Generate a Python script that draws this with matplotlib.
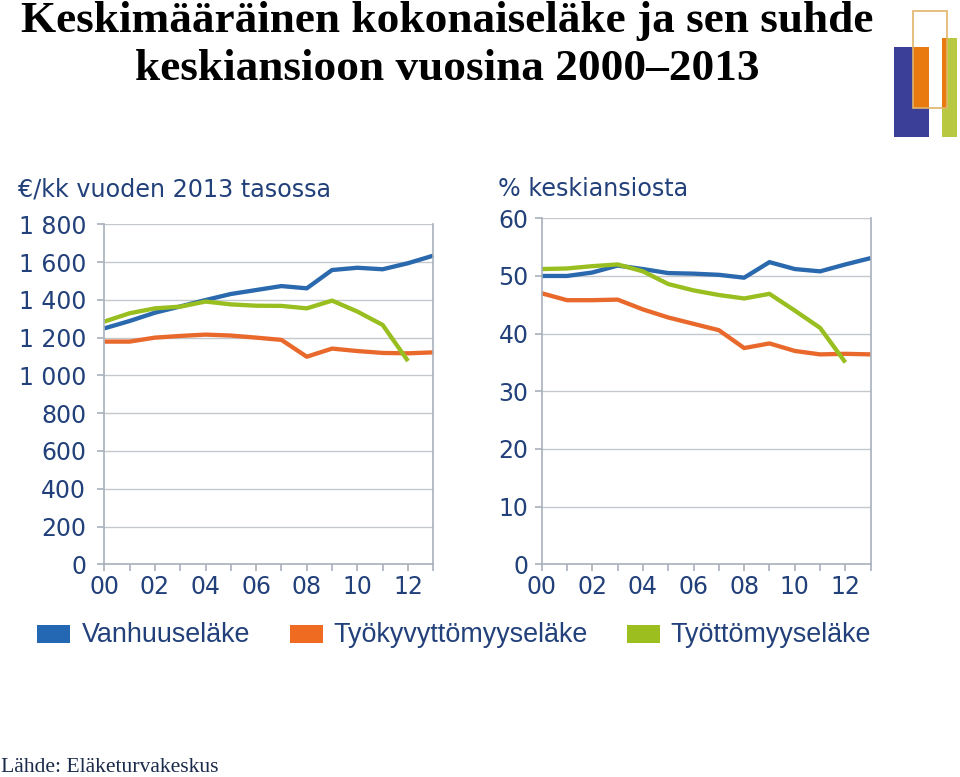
import numpy as np
import matplotlib
matplotlib.use('Agg')
import matplotlib.pyplot as plt
from matplotlib.patches import Rectangle

years = np.arange(0, 14)
year_labels = ['00', '02', '04', '06', '08', '10', '12']

# euro / month at 2013 level
eur_vanhuus = [1249, 1288, 1332, 1365, 1399, 1431, 1452, 1473, 1461, 1558, 1570, 1562, 1594, 1634]
eur_tyokyvyt = [1179, 1179, 1200, 1209, 1216, 1211, 1200, 1188, 1099, 1142, 1129, 1119, 1117, 1122]
eur_tyottomyys = [1285, 1329, 1355, 1364, 1391, 1376, 1369, 1368, 1355, 1396, 1338, 1267, 1076]

# percent of average earnings
pct_vanhuus = [50.0, 50.0, 50.6, 51.8, 51.2, 50.5, 50.4, 50.2, 49.7, 52.4, 51.2, 50.8, 52.0, 53.1]
pct_tyokyvyt = [47.0, 45.8, 45.8, 45.9, 44.2, 42.8, 41.7, 40.6, 37.5, 38.3, 37.0, 36.4, 36.5, 36.4]
pct_tyottomyys = [51.2, 51.3, 51.7, 52.0, 50.8, 48.6, 47.5, 46.7, 46.1, 46.9, 44.0, 41.0, 35.0]

series_names = ['Vanhuuseläke', 'Työkyvyttömyyseläke', 'Työttömyyseläke']
colors = ['#2a69ad', '#e8692b', '#99be1f']
navy = '#22407a'
gridc = '#c4c8cc'

W, H = 960, 777
fig = plt.figure(figsize=(W / 100, H / 100), dpi=100)


def fx(px):
    return px / W


def fy(py):
    return 1 - py / H


def setup(ax, ymax, ystep, ylabels, ypad):
    ax.set_xlim(0, 13)
    ax.set_ylim(0, ymax)
    ax.set_yticks(np.arange(0, ymax + 1, ystep))
    ax.set_yticklabels(ylabels)
    ax.set_xticks(years, minor=True)
    ax.set_xticks(np.arange(0, 13, 2))
    ax.set_xticklabels(year_labels)
    ax.yaxis.grid(True, color=gridc, lw=1.0)
    ax.set_axisbelow(True)
    for s in ['left', 'bottom', 'right']:
        ax.spines[s].set_color('#a8b0bc')
        ax.spines[s].set_linewidth(1.2)
    ax.spines['top'].set_visible(False)
    ax.tick_params(axis='both', which='both', colors='#a8b0bc', length=5, width=1.2,
                   labelcolor=navy, labelsize=17)
    ax.tick_params(axis='y', pad=ypad)
    ax.tick_params(axis='x', pad=3)


ax1 = fig.add_axes([fx(104.3), fy(564.3), fx(433.3 - 104.3), (564.3 - 224.3) / H])
for vals, c in zip([eur_vanhuus, eur_tyokyvyt, eur_tyottomyys], colors):
    ax1.plot(years[:len(vals)], vals, color=c, lw=3.1, solid_capstyle='butt', clip_on=False)
setup(ax1, 1800, 200, ['0', '200', '400', '600', '800', '1 000', '1 200', '1 400', '1 600', '1 800'], 8)

ax2 = fig.add_axes([fx(541.7), fy(564.3), fx(870.7 - 541.7), (564.3 - 218.3) / H])
for vals, c in zip([pct_vanhuus, pct_tyokyvyt, pct_tyottomyys], colors):
    ax2.plot(years[:len(vals)], vals, color=c, lw=3.1, solid_capstyle='butt', clip_on=False)
setup(ax2, 60, 10, ['0', '10', '20', '30', '40', '50', '60'], 4.5)

fig.text(fx(18), fy(189.5), '€/kk vuoden 2013 tasossa', color=navy, fontsize=17.2,
         va='center', ha='left')
fig.text(fx(498), fy(189.5), '% keskiansiosta', color=navy, fontsize=17.2,
         va='center', ha='left')

# title
fig.text(fx(447), fy(32), 'Keskimääräinen kokonaiseläke ja sen suhde', ha='center',
         va='baseline', fontsize=32.6, fontweight='bold', family='Liberation Serif', color='black')
fig.text(fx(447), fy(80), 'keskiansioon vuosina 2000–2013', ha='center',
         va='baseline', fontsize=32.6, fontweight='bold', family='Liberation Serif', color='black')

# legend
for name, c, sx, tx in zip(series_names, ['#2468b4', '#ef6b21', '#9cbe1e'],
                           [37, 290, 627], [82, 333, 670]):
    fig.patches.append(Rectangle((fx(sx), fy(643)), fx(33), 18 / H, transform=fig.transFigure,
                                 color=c, lw=0))
    fig.text(fx(tx), fy(634.5), name, color=navy, fontsize=19.4, family='Liberation Sans',
             va='center', ha='left')

# source
fig.text(fx(1), fy(772), 'Lähde: Eläketurvakeskus', color='#1a2a4a', fontsize=15.6,
         family='Liberation Serif', va='baseline', ha='left')

# logo
fig.patches.append(Rectangle((fx(894), fy(137)), fx(35), 90 / H, transform=fig.transFigure,
                             color='#3b3f98', lw=0))
fig.patches.append(Rectangle((fx(942), fy(137)), fx(15), 99 / H, transform=fig.transFigure,
                             color='#b8c840', lw=0))
fig.patches.append(Rectangle((fx(913), fy(108)), fx(16), 61 / H, transform=fig.transFigure,
                             color='#e87a10', lw=0))
fig.patches.append(Rectangle((fx(942), fy(108)), fx(5), 70 / H, transform=fig.transFigure,
                             color='#e87a10', lw=0))
fig.patches.append(Rectangle((fx(913), fy(108)), fx(34), 97 / H, transform=fig.transFigure,
                             fill=False, edgecolor='#e0b468', lw=1.2))

fig.savefig('out.png', dpi=100)
